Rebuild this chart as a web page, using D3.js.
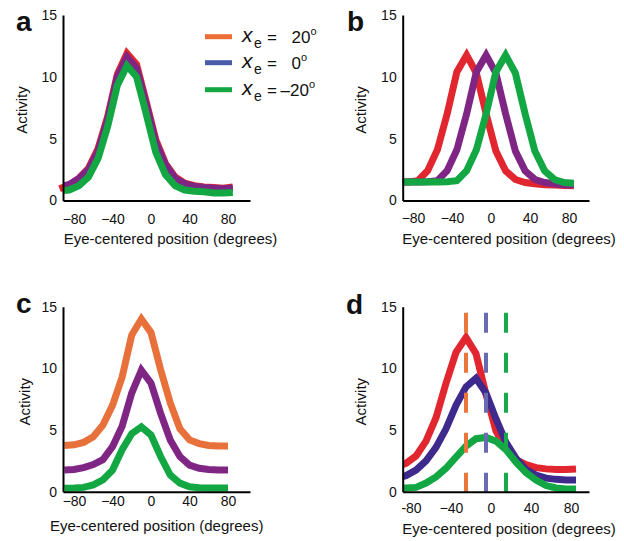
<!DOCTYPE html>
<html><head><meta charset="utf-8">
<script src="https://cdn.jsdelivr.net/npm/d3@7"></script>
<style>body{margin:0;background:#fff}svg{display:block}text{font-family:"Liberation Sans",Arial,sans-serif;fill:#111}</style>
</head><body><svg id="c" width="624" height="541"></svg>
<script>
// ---------- data ----------
const gridWide = [-95,-85,-75,-65,-55,-45,-35,-25,-15,-5,5,15,25,35,45,55,65,75,85];
const gridC    = [-90,-80,-70,-60,-50,-40,-30,-20,-10,0,10,20,30,40,50,60,70,80];
const xTickValues = [-80,-40,0,40,80];
const xTickLabels = ["\u221280","\u221240","0","40","80"];
const xTickLabelsD = ["-80","\u221240","0","40","80"];
const yTickValues = [0,5,10,15];

// panel a (same retinal tuning, three eye positions)
const aRed    = [0.95,1.25,1.8,2.6,4.2,6.8,10.2,11.9,11.0,8.0,4.9,3.0,1.9,1.4,1.2,1.1,1.05,1.0,1.1];
const aPurple = [1.1,1.3,1.75,2.5,4.0,6.6,10.0,11.6,10.7,7.8,4.7,2.9,1.8,1.35,1.15,1.05,1.0,0.95,1.0];
const aGreen  = [0.8,0.85,1.2,1.9,3.4,6.0,9.3,10.9,10.0,7.0,3.9,2.1,1.2,0.85,0.75,0.7,0.6,0.6,0.65];
// panel b (shifted tuning)
const bRed    = [1.5,1.5,1.6,2.4,4.1,7.0,10.4,11.75,10.3,7.0,4.0,2.4,1.7,1.45,1.35,1.28,1.25,1.22,1.2];
const bPurple = [1.5,1.5,1.5,1.52,1.6,2.4,4.1,7.0,10.4,11.75,10.3,7.0,4.0,2.4,1.7,1.45,1.35,1.28,1.25];
const bGreen  = [1.5,1.5,1.5,1.5,1.5,1.52,1.6,2.4,4.1,7.0,10.4,11.75,10.3,7.0,4.0,2.4,1.7,1.45,1.4];
// panel c (gain modulation)
const cOrange = [3.75,3.8,4.0,4.45,5.4,7.0,9.3,12.7,14.0,12.9,9.9,7.2,5.1,4.2,3.9,3.75,3.7,3.7];
const cPurple = [1.76,1.8,1.95,2.2,2.6,3.65,5.3,8.0,9.85,8.8,6.35,4.2,2.85,2.15,1.9,1.8,1.75,1.75];
const cGreen  = [0.27,0.3,0.35,0.55,0.95,1.75,3.4,4.7,5.25,4.6,2.85,1.35,0.7,0.4,0.32,0.3,0.3,0.3];
// panel d (partially shifting)
const dRed    = [2.0,2.3,2.9,4.1,6.0,8.8,11.3,12.5,11.2,7.9,4.9,3.5,2.6,2.2,1.95,1.85,1.8,1.8,1.85];
const dIndigo = [1.1,1.3,1.75,2.5,3.6,5.1,7.0,8.5,9.2,8.0,5.9,4.0,2.7,1.8,1.35,1.1,1.0,0.95,0.95];
const dGreen  = [0.25,0.3,0.35,0.7,1.2,1.9,2.8,3.7,4.3,4.4,4.1,3.4,2.4,1.55,0.95,0.5,0.3,0.22,0.22];
const dMarkers = [-25,-5,15];
const dMarkerTop = 14.5;

const legendLabels = ["20","0","\u201320"];

// ---------- styles ----------
const C = {red:"#e1262f", purple:"#7f2685", green:"#12a743", orange:"#e8703a", indigo:"#3e2a8c",
           lOrange:"#ea6e36", lBlue:"#4a5ca8", lGreen:"#14a640",
           mOrange:"#e9773b", mBlue:"#6a6ab0", mGreen:"#19a94b"};

const svg = d3.select("#c");

const panels = [
  {id:"a", letter:"a", lx:16, ly:31, ax:63, ae:250, y0:200.5, y15:15, x0:151, ppd:0.9625, tickY:223.5, titleX:170.5, titleY:244, actX:27, actY:110, labels:xTickLabels,
   grid:gridWide, series:[{v:aRed,c:C.red,clip:false},{v:aPurple,c:C.purple,clip:true},{v:aGreen,c:C.green,clip:true}]},
  {id:"b", letter:"b", lx:347, ly:31, ax:402.7, ae:589, y0:200.5, y15:15, x0:491, ppd:0.975, tickY:223, titleX:509, titleY:244, actX:366, actY:110, labels:xTickLabels,
   grid:gridWide, series:[{v:bRed,c:C.red,clip:true},{v:bPurple,c:C.purple,clip:true},{v:bGreen,c:C.green,clip:true}]},
  {id:"c", letter:"c", lx:16, ly:313, ax:63, ae:250, y0:491.7, y15:306.7, x0:151, ppd:0.9625, tickY:506.5, titleX:156.7, titleY:531, actX:29.5, actY:401.7, labels:xTickLabels,
   grid:gridC, series:[{v:cOrange,c:C.orange,clip:true},{v:cPurple,c:C.purple,clip:true},{v:cGreen,c:C.green,clip:true}]},
  {id:"d", letter:"d", lx:346, ly:314, ax:402.7, ae:589, y0:491.7, y15:306.7, x0:491, ppd:1.0, tickY:513, titleX:509, titleY:534, actX:366, actY:401.7, labels:xTickLabelsD,
   grid:gridWide, series:[{v:dRed,c:C.red,clip:true},{v:dIndigo,c:C.indigo,clip:true},{v:dGreen,c:C.green,clip:true}], markers:true}
];

panels.forEach(p => {
  const x = d3.scaleLinear().domain([(p.ax - p.x0)/p.ppd, (p.ae - p.x0)/p.ppd]).range([p.ax, p.ae]);
  const y = d3.scaleLinear().domain([0,15]).range([p.y0, p.y15]);
  const g = svg.append("g");

  g.append("clipPath").attr("id","clip-"+p.id).append("rect")
    .attr("x", x.range()[0]).attr("y", 0).attr("width", 300).attr("height", 541);

  const line = d3.line().x((d,i)=>x(p.grid[i])).y(d=>y(d)).curve(d3.curveLinear);
  p.series.forEach(s => {
    g.append("path").datum(s.v).attr("d", line)
      .attr("fill","none").attr("stroke", s.c).attr("stroke-width", 7)
      .attr("stroke-linejoin","miter").attr("stroke-miterlimit", 4)
      .attr("clip-path", s.clip ? "url(#clip-"+p.id+")" : null);
  });

  if (p.markers) {
    const mc = [C.mOrange, C.mBlue, C.mGreen];
    dMarkers.forEach((m,i) => {
      g.append("line").attr("x1", x(m)).attr("x2", x(m))
        .attr("y1", y(dMarkerTop)).attr("y2", y(0))
        .attr("stroke", mc[i]).attr("stroke-width", 4).attr("stroke-dasharray","20 20");
    });
  }

  // axes
  const yAxis = d3.axisLeft(y).tickValues(yTickValues).tickSize(0).tickPadding(6).tickFormat(d3.format("d"));
  const ya = g.append("g").attr("transform", `translate(${p.ax},0)`).call(yAxis);
  ya.select(".domain").attr("stroke","#000").attr("stroke-width",2);
  ya.selectAll("text").attr("font-size",14).attr("font-family",'"Liberation Sans",Arial,sans-serif').attr("fill","#111");

  const xAxis = d3.axisBottom(x).tickValues(xTickValues).tickSize(0).tickPadding(0)
    .tickFormat((d,i)=>p.labels[i]);
  const xa = g.append("g").attr("transform", `translate(0,${p.y0})`).call(xAxis);
  xa.select(".domain").attr("stroke","#000").attr("stroke-width",2);
  xa.selectAll("text").attr("font-size",14).attr("dy",null).attr("y", p.tickY - p.y0)
    .attr("font-family",'"Liberation Sans",Arial,sans-serif').attr("fill","#111");

  g.append("text").attr("x", p.titleX).attr("y", p.titleY).attr("text-anchor","middle")
    .attr("font-size",15).text("Eye-centered position (degrees)");
  g.append("text").attr("transform",`translate(${p.actX},${p.actY}) rotate(-90)`).attr("text-anchor","middle")
    .attr("font-size",15).text("Activity");
  g.append("text").attr("x", p.lx).attr("y", p.ly).attr("font-size",28).attr("font-weight","bold")
    .attr("font-family",'"Liberation Sans",Arial,sans-serif').attr("fill","#000").text(p.letter);
});

// legend
const legColors = [C.lOrange, C.lBlue, C.lGreen];
const legLineY = [36.7, 62.7, 89.7];
const leg = svg.append("g");
legendLabels.forEach((lab,i) => {
  const ly = legLineY[i], base = ly + 6.6;
  leg.append("line").attr("x1",205).attr("x2",232).attr("y1",ly).attr("y2",ly)
    .attr("stroke", legColors[i]).attr("stroke-width",5);
  leg.append("text").attr("x",242).attr("y",base-1).attr("font-size",21).attr("font-style","italic").text("x");
  leg.append("text").attr("x",254).attr("y",base+4.5).attr("font-size",14).text("e");
  leg.append("text").attr("x",267).attr("y",base).attr("font-size",17).text("=");
  const t = leg.append("text").attr("x", i===2 ? 280.5 : 291.5).attr("y",base).attr("font-size",17);
  t.append("tspan").text(lab);
  t.append("tspan").attr("dy",-8).attr("font-size",11).text("o");
});
</script></body></html>
